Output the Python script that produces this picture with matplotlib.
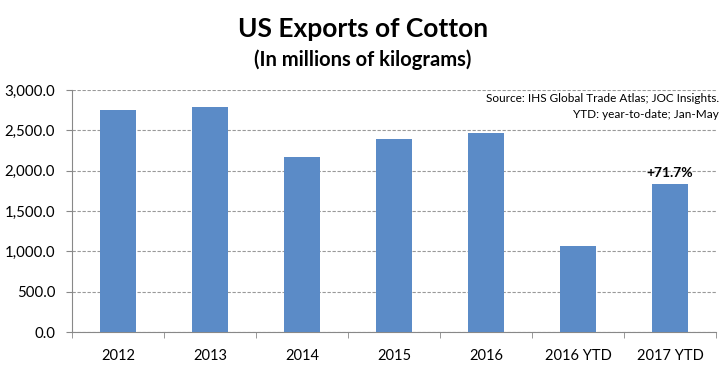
import matplotlib
matplotlib.use("Agg")
import matplotlib.pyplot as plt
from matplotlib.ticker import FuncFormatter, FixedLocator

categories = ["2012", "2013", "2014", "2015", "2016", "2016 YTD", "2017 YTD"]
values = [2752, 2785, 2166, 2389, 2467, 1068, 1834]
yticks = [0, 500, 1000, 1500, 2000, 2500, 3000]
annotation = "+71.7%"
title = "US Exports of Cotton"
subtitle = "(In millions of kilograms)"
source_lines = ["Source: IHS Global Trade Atlas; JOC Insights.", "YTD: year-to-date; Jan-May"]

plt.rcParams['font.family'] = ['Lato', 'DejaVu Sans']

W, H = 727, 370
fig = plt.figure(figsize=(W/100, H/100), dpi=100)
ax = fig.add_axes([72/W, 1-332/H, (716-72)/W, (332-90)/H])

x = list(range(len(categories)))
ax.bar(x, values, width=0.39, color="#5B8BC7", zorder=3)
ax.set_xlim(-0.5, len(categories)-0.5)
ax.set_ylim(0, 3000)
ax.set_yticks(yticks)
ax.yaxis.set_major_formatter(FuncFormatter(lambda v, p: f"{v:,.1f}"))
ax.set_xticks(x)
ax.set_xticklabels(categories)
ax.xaxis.set_minor_locator(FixedLocator([i-0.5 for i in range(len(categories)+1)]))
ax.tick_params(axis='x', which='major', length=0, pad=12, labelsize=10.5)
ax.tick_params(axis='x', which='minor', length=4, color="#888888", direction='out')
ax.tick_params(axis='y', length=4, color="#888888", labelsize=10.8, pad=8)
for lbl in ax.get_xticklabels() + ax.get_yticklabels():
    lbl.set_color("black")

ax.grid(axis='y', linestyle=(0, (3, 1.5)), color="#999999", linewidth=0.8, zorder=0)
for s in ["top", "right"]:
    ax.spines[s].set_visible(False)
for s in ["left", "bottom"]:
    ax.spines[s].set_color("#888888")
    ax.spines[s].set_linewidth(0.8)

ax.annotate(annotation, (x[-1], values[-1]), xytext=(0, 4), textcoords="offset points",
            ha="center", va="bottom", fontsize=10, fontweight="bold")

fig.text(363/W, 1-37/H, title, ha="center", va="baseline", fontsize=19, fontweight="bold")
fig.text(363/W, 1-66/H, subtitle, ha="center", va="baseline", fontsize=14.5, fontweight="bold")
fig.text(719/W, 1-99/H, source_lines[0], ha="right", va="center", fontsize=8.5)
fig.text(719/W, 1-115/H, source_lines[1], ha="right", va="center", fontsize=8.5)

fig.savefig("out.png", dpi=100)
